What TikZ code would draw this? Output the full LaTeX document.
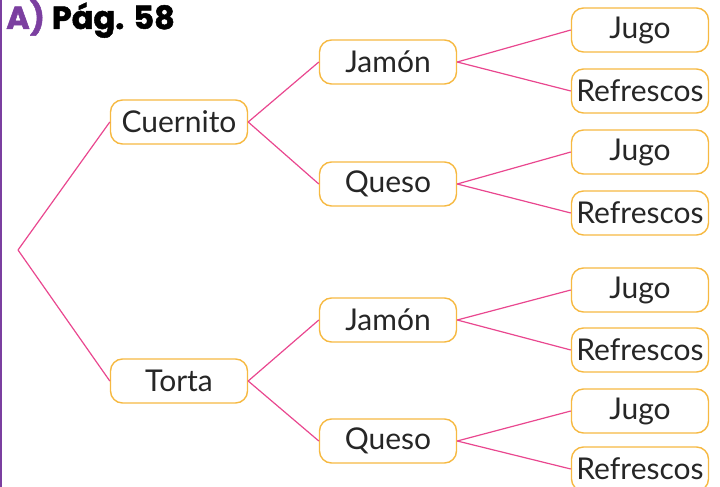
\documentclass[tikz,border=0pt]{standalone}
\usepackage{fontspec}
\setmainfont{Lato}
\newfontfamily\headfont[BoldFeatures={FakeBold=1.5}]{Poppins}
\definecolor{boxline}{HTML}{F6B942}
\definecolor{branch}{HTML}{E9478F}
\definecolor{letterA}{HTML}{7B3FA0}
\tikzset{
  box/.style={draw=boxline, line width=1.4pt, rounded corners=12pt, minimum width=137pt,
    minimum height=44pt, inner sep=0pt, text=black!85, font=\fontsize{30}{30}\selectfont},
  link/.style={draw=branch, line width=1.2pt},
}
\begin{document}
\begin{tikzpicture}[x=1pt,y=-1pt]
	\useasboundingbox (0,0) rectangle (720,487);
	\draw[letterA, line width=2pt] (1,0) -- (1,487);
	\node[anchor=base west, inner sep=0pt, font=\headfont\bfseries\fontsize{32}{32}\selectfont] (title) at (6,29) {\textcolor{letterA}{A)} Pág. 58};
	% first choice
	\coordinate (root) at (18,250);
	\node[box] (cuernito) at (179,122) {Cuernito};
	\node[box] (torta) at (179,381) {Torta};
	\draw[link] (root) -- (cuernito.west);
	\draw[link] (root) -- (torta.west);
	% second choice
	\node[box] (jamonA) at (388,62) {Jamón};
	\node[box] (quesoA) at (388,184) {Queso};
	\node[box] (jamonB) at (388,320) {Jamón};
	\node[box] (quesoB) at (388,441) {Queso};
	\draw[link] (cuernito.east) -- (jamonA.west);
	\draw[link] (cuernito.east) -- (quesoA.west);
	\draw[link] (torta.east) -- (jamonB.west);
	\draw[link] (torta.east) -- (quesoB.west);
	% drinks
	\foreach \m/\a/\b in {jamonA/30/91, quesoA/152/213, jamonB/290/350, quesoB/411/469}
	{
		\node[box] (\m-jugo) at (640,\a) {Jugo};
		\node[box] (\m-refr) at (640,\b) {Refrescos};
		\draw[link] (\m.east) -- (\m-jugo.west);
		\draw[link] (\m.east) -- (\m-refr.west);
	}
\end{tikzpicture}
\end{document}
